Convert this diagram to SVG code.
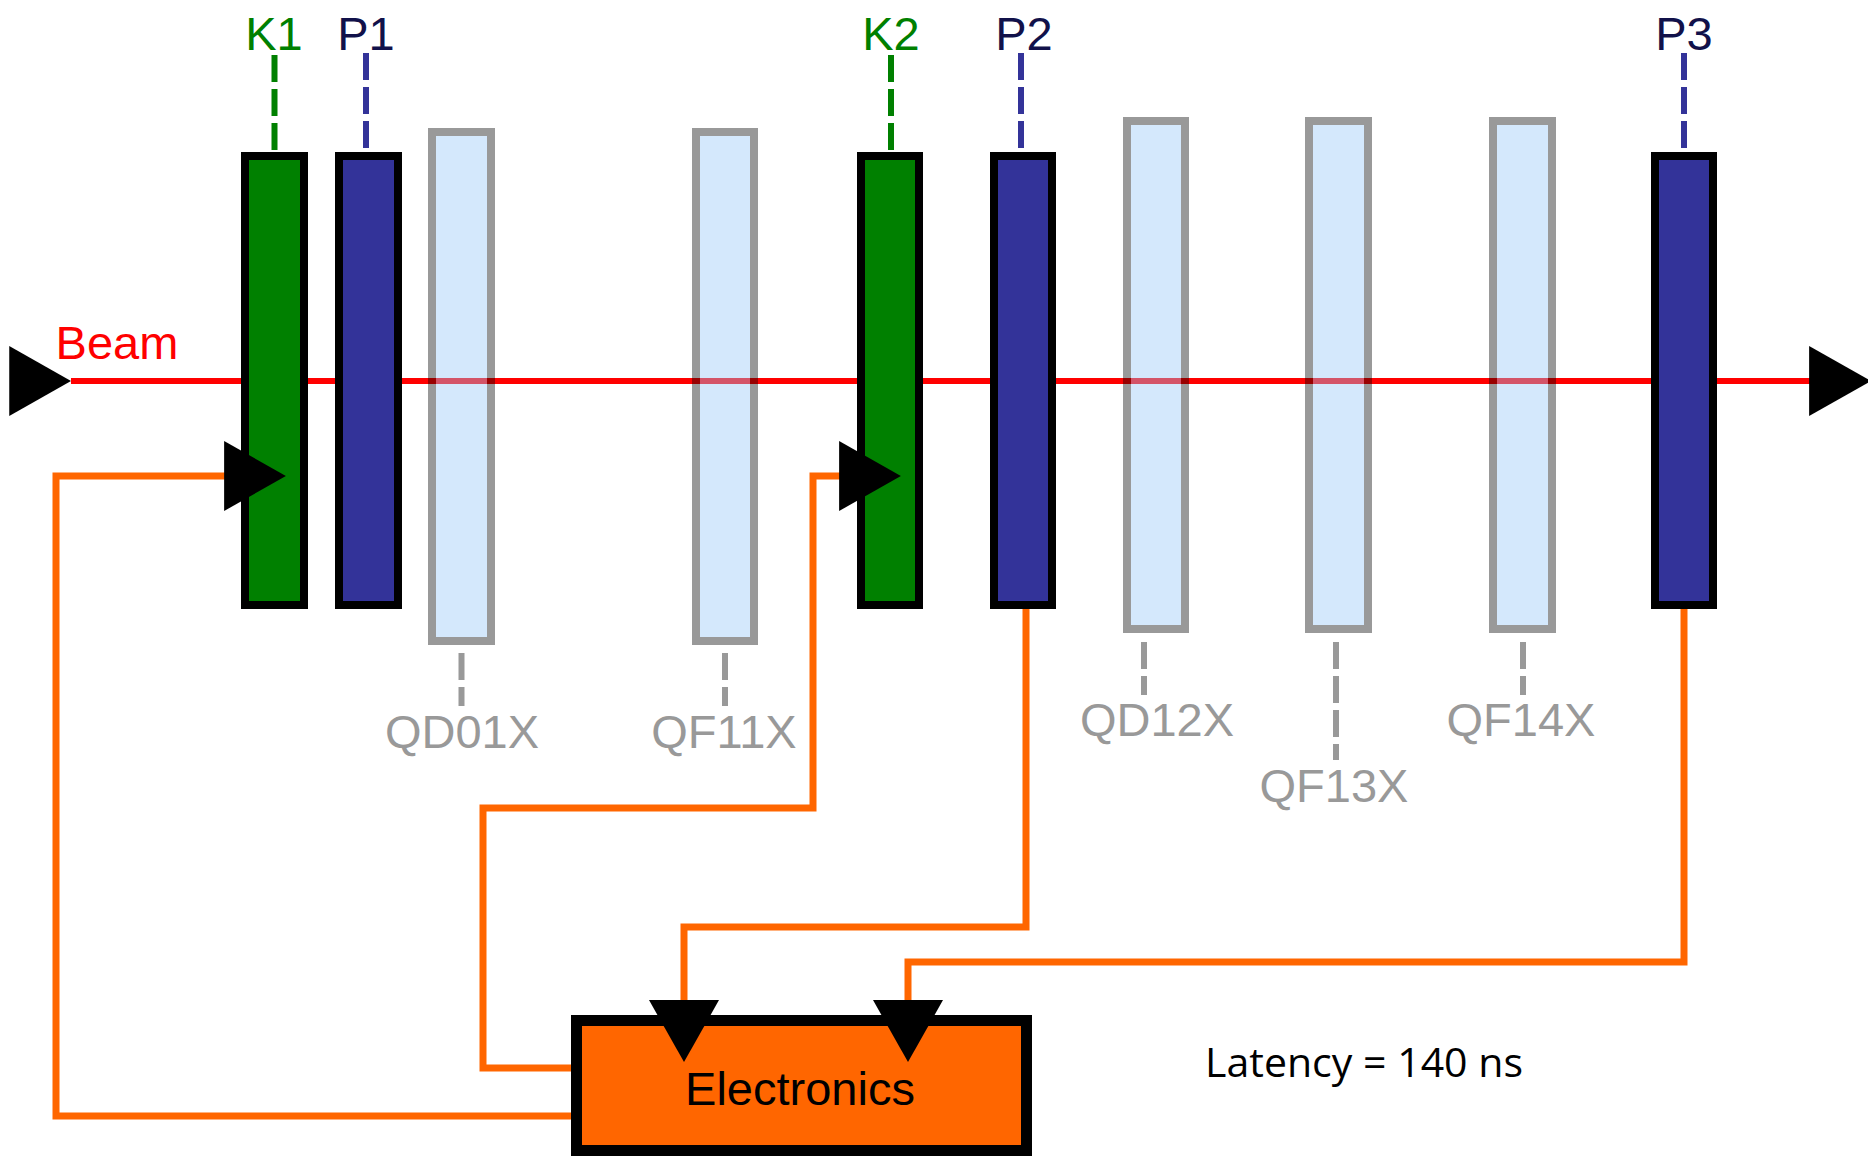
<svg xmlns="http://www.w3.org/2000/svg" width="1868" height="1156" viewBox="0 0 1868 1156">
  <style>
    .lbl { font-family: "Liberation Sans", Arial, sans-serif; font-size: 47px; text-anchor: middle; }
    .k { fill: #008000; stroke: #000; stroke-width: 8; }
    .p { fill: #333399; stroke: #000; stroke-width: 8; }
    .qf { fill: #98c9f8; fill-opacity: 0.42; }
    .qs { fill: none; stroke: #000; stroke-opacity: 0.4; stroke-width: 8; }
    .kt { fill: #008000; }
    .pt { fill: #11114a; }
    .qt { fill: #999999; }
    .kd { stroke: #008000; stroke-width: 6; stroke-dasharray: 27 7; fill: none; }
    .pd { stroke: #333399; stroke-width: 6; stroke-dasharray: 27 7; fill: none; }
    .qd { stroke: #999999; stroke-width: 6; stroke-dasharray: 27 7; fill: none; }
    .wire { fill: none; stroke: #ff6600; stroke-width: 7; marker-end: url(#tri); }
  </style>
  <defs>
    <marker id="tri" markerUnits="userSpaceOnUse" markerWidth="62" markerHeight="70" viewBox="0 0 60 68" refX="30" refY="34" orient="auto">
      <path d="M0,0 L60,34 L0,68 Z" fill="#000"/>
    </marker>
    <marker id="triS" markerUnits="userSpaceOnUse" markerWidth="62" markerHeight="70" viewBox="0 0 60 68" refX="60" refY="34" orient="auto">
      <path d="M0,0 L60,34 L0,68 Z" fill="#000"/>
    </marker>
  </defs>
  <rect width="1868" height="1156" fill="#fff"/>

  <g id="beam">
    <path d="M71,381 H1840" stroke="#ff0000" stroke-width="6" fill="none" marker-start="url(#triS)" marker-end="url(#tri)"/>
    <text class="lbl" x="117" y="359" fill="#ff0000">Beam</text>
  </g>

  <g id="K1">
    <rect class="k" x="245" y="156" width="59" height="449"/>
    <line class="kd" x1="274.5" y1="55" x2="274.5" y2="152"/>
    <text class="lbl kt" x="274" y="50">K1</text>
  </g>
  <g id="P1">
    <rect class="p" x="339" y="156" width="59" height="449"/>
    <line class="pd" x1="366" y1="53" x2="366" y2="152"/>
    <text class="lbl pt" x="366" y="50">P1</text>
  </g>
  <g id="QD01X">
    <rect class="qf" x="436" y="136" width="51" height="501"/>
    <rect class="qs" x="432" y="132" width="59" height="509"/>
    <line class="qd" x1="461.5" y1="653" x2="461.5" y2="706"/>
    <text class="lbl qt" x="462" y="748">QD01X</text>
  </g>
  <g id="QF11X">
    <rect class="qf" x="700" y="136" width="50" height="501"/>
    <rect class="qs" x="696" y="132" width="58" height="509"/>
    <line class="qd" x1="725" y1="653" x2="725" y2="706"/>
    <text class="lbl qt" x="724" y="748">QF11X</text>
  </g>
  <g id="K2">
    <rect class="k" x="861" y="156" width="58" height="449"/>
    <line class="kd" x1="891" y1="55" x2="891" y2="152"/>
    <text class="lbl kt" x="891" y="50">K2</text>
  </g>
  <g id="P2">
    <rect class="p" x="994" y="156" width="58" height="449"/>
    <line class="pd" x1="1021" y1="53" x2="1021" y2="152"/>
    <text class="lbl pt" x="1024" y="50">P2</text>
  </g>
  <g id="QD12X">
    <rect class="qf" x="1131" y="125" width="50" height="500"/>
    <rect class="qs" x="1127" y="121" width="58" height="508"/>
    <line class="qd" x1="1144" y1="642" x2="1144" y2="695"/>
    <text class="lbl qt" x="1157" y="736">QD12X</text>
  </g>
  <g id="QF13X">
    <rect class="qf" x="1313" y="125" width="51" height="500"/>
    <rect class="qs" x="1309" y="121" width="59" height="508"/>
    <line class="qd" x1="1336" y1="642" x2="1336" y2="760"/>
    <text class="lbl qt" x="1334" y="802">QF13X</text>
  </g>
  <g id="QF14X">
    <rect class="qf" x="1497" y="125" width="51" height="500"/>
    <rect class="qs" x="1493" y="121" width="59" height="508"/>
    <line class="qd" x1="1523" y1="642" x2="1523" y2="695"/>
    <text class="lbl qt" x="1521" y="736">QF14X</text>
  </g>
  <g id="P3">
    <rect class="p" x="1655" y="156" width="58" height="449"/>
    <line class="pd" x1="1684" y1="53" x2="1684" y2="152"/>
    <text class="lbl pt" x="1684" y="50">P3</text>
  </g>

  <g id="Electronics">
    <rect x="576.5" y="1020.5" width="450" height="130" fill="#ff6600" stroke="#000" stroke-width="11"/>
    <text class="lbl" x="800" y="1105" fill="#000" font-size="45">Electronics</text>
  </g>

  <g id="connectors">
    <path class="wire" d="M571,1116 H56 V476 H255"/>
    <path class="wire" d="M571,1068 H483 V808 H813 V476 H870"/>
    <path class="wire" d="M1026,609 V927 H684 V1031"/>
    <path class="wire" d="M1684,609 V962 H908 V1031"/>
  </g>

  <text x="1205" y="1077" font-family="'Open Sans', 'Noto Sans', sans-serif" font-size="41" textLength="318" lengthAdjust="spacingAndGlyphs" fill="#000">Latency = 140 ns</text>
</svg>
